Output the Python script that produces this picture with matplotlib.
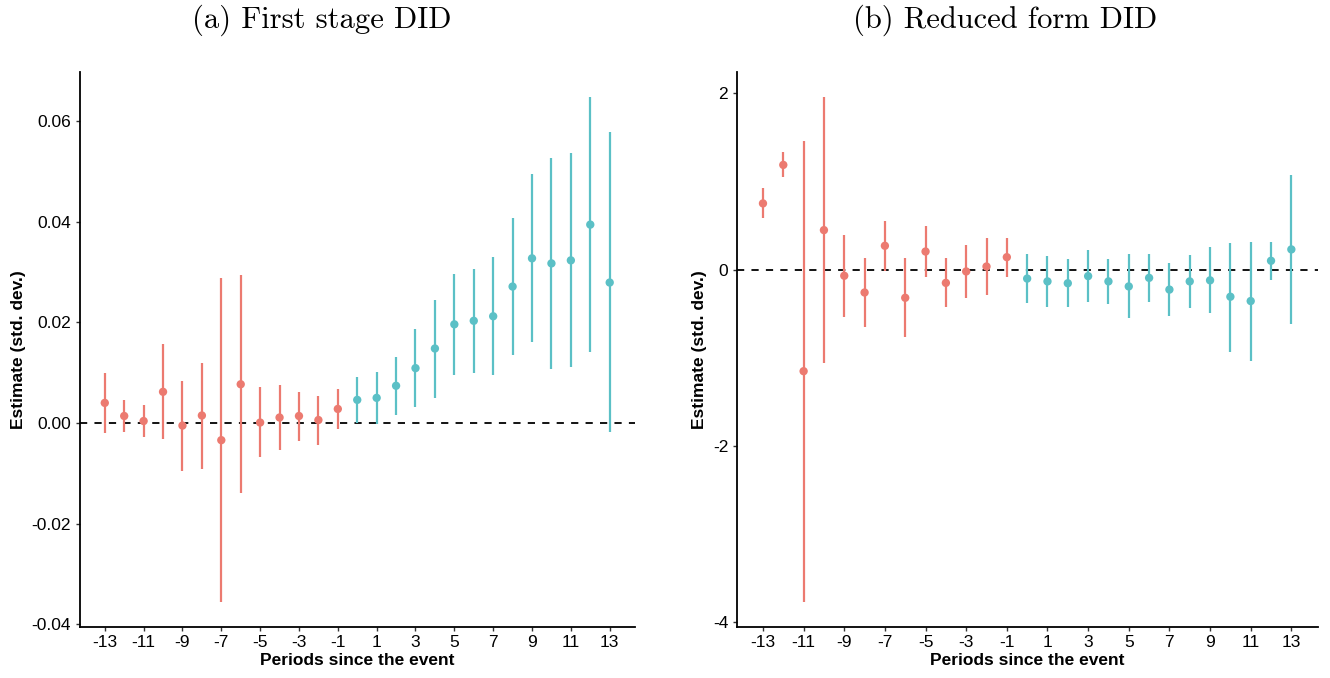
import numpy as np
import matplotlib
matplotlib.use("Agg")
import matplotlib.pyplot as plt
from matplotlib.ticker import FuncFormatter

# event time (periods since the event)
periods = list(range(-13, 14))

# (a) first stage DID: point estimates and 95% CI bounds
fs_est = [0.0040, 0.0014, 0.0004, 0.0062, -0.0005, 0.0015, -0.0034, 0.0077, 0.0001,
          0.0011, 0.0014, 0.0006, 0.0028, 0.0046, 0.0050, 0.0074, 0.0109, 0.0148,
          0.0196, 0.0203, 0.0212, 0.0271, 0.0327, 0.0317, 0.0323, 0.0394, 0.0279]
fs_lo = [-0.0020, -0.0018, -0.0028, -0.0032, -0.0095, -0.0091, -0.0355, -0.0139, -0.0067,
         -0.0053, -0.0035, -0.0044, -0.0011, 0.0000, -0.0001, 0.0016, 0.0032, 0.0050,
         0.0096, 0.0100, 0.0095, 0.0136, 0.0160, 0.0108, 0.0112, 0.0141, -0.0018]
fs_hi = [0.0099, 0.0045, 0.0035, 0.0156, 0.0084, 0.0120, 0.0287, 0.0293, 0.0071,
         0.0076, 0.0062, 0.0054, 0.0067, 0.0091, 0.0102, 0.0131, 0.0186, 0.0245,
         0.0296, 0.0306, 0.0329, 0.0407, 0.0495, 0.0527, 0.0536, 0.0647, 0.0578]

# (b) reduced form DID
rf_est = [0.752, 1.189, -1.152, 0.449, -0.069, -0.259, 0.271, -0.319, 0.206,
          -0.150, -0.020, 0.036, 0.142, -0.101, -0.133, -0.154, -0.073, -0.133,
          -0.190, -0.093, -0.226, -0.133, -0.121, -0.307, -0.356, 0.101, 0.230]
rf_lo = [0.586, 1.047, -3.769, -1.063, -0.534, -0.647, -0.016, -0.768, -0.081,
         -0.429, -0.323, -0.287, -0.081, -0.380, -0.425, -0.425, -0.368, -0.388,
         -0.550, -0.372, -0.530, -0.433, -0.497, -0.930, -1.031, -0.121, -0.619]
rf_hi = [0.922, 1.334, 1.464, 1.957, 0.392, 0.133, 0.550, 0.133, 0.497,
         0.133, 0.279, 0.364, 0.364, 0.178, 0.154, 0.121, 0.218, 0.117,
         0.174, 0.182, 0.081, 0.166, 0.255, 0.307, 0.319, 0.311, 1.080]

x_ticks = list(range(-13, 14, 2))
fs_yticks = [-0.04, -0.02, 0.00, 0.02, 0.04, 0.06]
rf_yticks = [-4, -2, 0, 2]

PRE_COLOR = "#EC7A70"
POST_COLOR = "#5BC0C6"

plt.rcParams["font.family"] = ["Liberation Sans", "DejaVu Sans"]


def event_plot(ax, est, lo, hi, yticks, fmt):
    x = np.array(periods)
    est = np.array(est)
    lo = np.array(lo)
    hi = np.array(hi)
    colors = [PRE_COLOR if p < 0 else POST_COLOR for p in periods]

    ax.axhline(0, color="black", linestyle=(0, (4, 4)), linewidth=1.3, zorder=1)
    ax.vlines(x, lo, hi, colors=colors, linewidth=1.6, zorder=2)
    ax.scatter(x, est, s=36, c=colors, edgecolors="none", zorder=3)

    ax.margins(x=0.05, y=0.05)
    ax.set_xticks(x_ticks)
    ax.set_xticklabels([str(t).replace("\u2212", "-") for t in x_ticks])
    ax.set_yticks(yticks)
    ax.yaxis.set_major_formatter(FuncFormatter(lambda v, _: fmt.format(v).replace("\u2212", "-")))

    for side in ["top", "right"]:
        ax.spines[side].set_visible(False)
    for side in ["left", "bottom"]:
        ax.spines[side].set_linewidth(1.3)
        ax.spines[side].set_color("black")

    ax.tick_params(axis="both", length=3, width=1.0, color="#333333",
                   labelsize=12.5, labelcolor="black", pad=3)
    ax.set_xlabel("Periods since the event", fontsize=12.5, fontweight="bold", labelpad=2)
    ax.set_ylabel("Estimate (std. dev.)", fontsize=12.5, fontweight="bold", labelpad=4)


fig = plt.figure(figsize=(13.3, 6.78), dpi=100)

ax1 = fig.add_axes([0.0598, 0.0752, 0.4176, 0.8186])
event_plot(ax1, fs_est, fs_lo, fs_hi, fs_yticks, "{:.2f}")
ax1.set_ylim(-0.0405, 0.0697)

ax2 = fig.add_axes([0.5538, 0.0752, 0.4370, 0.8186])
event_plot(ax2, rf_est, rf_lo, rf_hi, rf_yticks, "{:.0f}")

fig.text(322 / 1330, 1 - 20 / 678, "(a) First stage DID", family="cmr10",
         fontsize=22, ha="center", va="center")
fig.text(1005 / 1330, 1 - 20 / 678, "(b) Reduced form DID", family="cmr10",
         fontsize=22, ha="center", va="center")

fig.savefig("out.png", dpi=100)
